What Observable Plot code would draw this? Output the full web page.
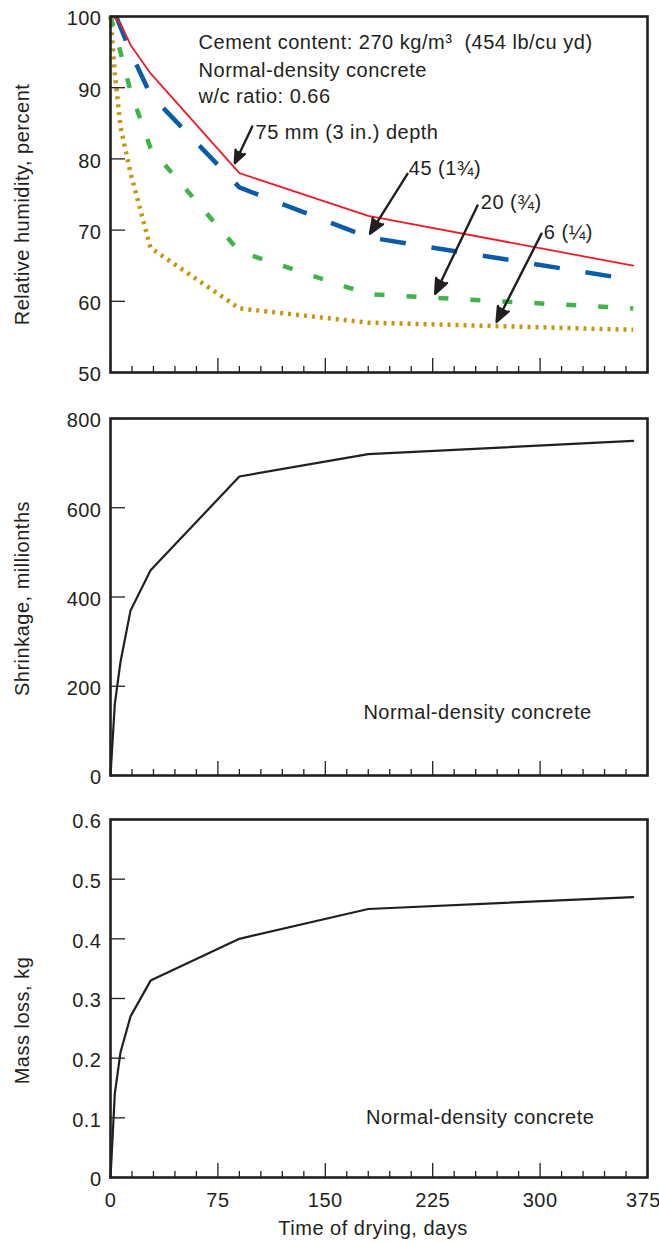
<!DOCTYPE html>
<html><head><meta charset="utf-8">
<script src="https://cdn.jsdelivr.net/npm/d3@7"></script>
<script src="https://cdn.jsdelivr.net/npm/@observablehq/plot@0.6"></script>
<style>
html,body{margin:0;padding:0;background:#fff;}
#chart{width:659px;}
#chart svg{display:block;}
</style></head><body><div id="chart"></div>
<script>
// ---------- data ----------
const rh75Days = [2, 7, 14, 28, 90, 180, 365];
const rh75 = [100, 99, 96, 92, 78, 72, 65];
const rh45Days = [4, 7, 14, 28, 90, 180, 365];
const rh45 = [100, 98.5, 95, 89, 76, 69, 63];
const rh20Days = [0, 3, 7, 14, 28, 90, 180, 365];
const rh20 = [100, 98, 95, 89.5, 81.5, 67, 61, 59];
const rh6Days = [0, 3, 7, 14, 28, 90, 180, 365];
const rh6 = [100, 92, 84.5, 78, 67.5, 59, 57, 56];

const shrinkDays = [0, 3, 7, 14, 28, 90, 180, 365];
const shrinkage = [0, 160, 255, 370, 460, 670, 720, 750];
const massDays = [0, 3, 7, 14, 28, 90, 180, 365];
const massLoss = [0, 0.14, 0.21, 0.27, 0.33, 0.40, 0.45, 0.47];

const xMajorTicks = [0, 75, 150, 225, 300, 375];
const xLabelTicks = [0, 75, 150, 225, 300];
const xLastTick = [375];
const xMinorTicks = [15, 30, 45, 60, 90, 105, 120, 135, 165, 180, 195, 210, 240, 255, 270, 285, 315, 330, 345, 360];
const rhTicks = [50, 60, 70, 80, 90, 100];
const shrinkTicks = [0, 200, 400, 600, 800];
const massTicks = [0, 0.1, 0.2, 0.3, 0.4, 0.5, 0.6];

const noteLines = ["Cement content: 270 kg/m³ \u00a0(454 lb/cu yd)", "Normal-density concrete", "w/c ratio: 0.66"];
const noteX = [61.5, 61.5, 61.5];
const noteY = [96.3, 92.4, 88.8];

const depthLabels = ["75 mm (3 in.) depth", "45 (1¾)", "20 (¾)", "6 (¼)"];
const depthLabelX = [101.3, 208.3, 258.6, 302.6];
const depthLabelY = [83.7, 78.65, 73.9, 69.7];
const arrowX1 = [99, 207.4, 256.3, 301];
const arrowY1 = [84.55, 77.9, 73.45, 69.5];
const arrowX2 = [86.8, 181.2, 226.7, 269.6];
const arrowY2 = [79.4, 69.5, 61.05, 57.1];

const panelNote = "Normal-density concrete";
const shrinkNote = {x: 256.3, y: 141.8};
const massNote = {x: 258.2, y: 0.101};

const xLabel = "Time of drying, days";

// ---------- styles ----------
const FONT = "'Liberation Sans', Arial, Helvetica, sans-serif";
const INK = "#231f20";
const RED = "#ed1c24", BLUE = "#0a5ca8", GREEN = "#3fb549", GOLD = "#c8960f";
const svgStyle = `font-family:${FONT};font-size:20px;letter-spacing:0.5px;color:${INK};background:#fff;overflow:visible;`;
const fmt = d => `${d}`;

function panel({height, marginTop, marginBottom, yDomain, yTicks, yLabel, yLabelDy, xLabels, marks}) {
  return Plot.plot({
    width: 659, height, marginLeft: 110, marginRight: 12, marginTop, marginBottom,
    style: svgStyle,
    x: {domain: [0, 375]},
    y: {domain: yDomain},
    marks: [
      ...marks,
      Plot.axisX(xMinorTicks, {tickSize: -6, tickFormat: () => "", label: null, stroke: INK, strokeWidth: 1.3}),
      Plot.axisX(xMajorTicks, {tickSize: -14, tickFormat: () => "", label: null, stroke: INK, strokeWidth: 1.3}),
      xLabels ? Plot.axisX(xLabelTicks, {tickSize: 0, tickPadding: 15, tickFormat: fmt, label: null, fill: INK}) : null,
      xLabels ? Plot.axisX(xLastTick, {tickSize: 0, tickPadding: 15, tickFormat: fmt, label: null, fill: INK, dx: -4}) : null,
      xLabels ? Plot.text([xLabel], {text: d => d, frameAnchor: "bottom", textAnchor: "middle", dy: 51, dx: -6, lineAnchor: "middle", fill: INK}) : null,
      Plot.axisY(yTicks, {tickSize: -15, tickFormat: () => "", label: null, stroke: INK, strokeWidth: 1.3}),
      Plot.axisY(yTicks, {tickSize: 0, tickPadding: 9, tickFormat: fmt, label: null, dy: 2.5, fill: INK}),
      Plot.text([yLabel], {text: d => d, frameAnchor: "left", textAnchor: "middle", rotate: -90, dx: -88, dy: yLabelDy, lineAnchor: "middle", fill: INK}),
      Plot.frame({stroke: INK, strokeWidth: 2.6})
    ]
  });
}

const p1 = panel({
  height: 390, marginTop: 16, marginBottom: 18, yDomain: [50, 100], yTicks: rhTicks,
  yLabel: "Relative humidity, percent", yLabelDy: 10,
  marks: [
    Plot.line(rh6Days, {x: d => d, y: (d, i) => rh6[i], stroke: GOLD, strokeWidth: 4.5, strokeDasharray: "3,5", strokeLinecap: "butt", strokeLinejoin: "miter"}),
    Plot.line(rh20Days, {x: d => d, y: (d, i) => rh20[i], stroke: GREEN, strokeWidth: 4.5, strokeDasharray: "10,22", strokeLinecap: "butt", strokeLinejoin: "miter"}),
    Plot.line(rh45Days, {x: d => d, y: (d, i) => rh45[i], stroke: BLUE, strokeWidth: 4.5, strokeDasharray: "26,26", strokeLinecap: "butt", strokeLinejoin: "miter"}),
    Plot.line(rh75Days, {x: d => d, y: (d, i) => rh75[i], stroke: RED, strokeWidth: 1.8}),
    Plot.arrow(depthLabels, {
      x1: (d, i) => arrowX1[i], y1: (d, i) => arrowY1[i], x2: (d, i) => arrowX2[i], y2: (d, i) => arrowY2[i],
      stroke: INK, fill: INK, strokeWidth: 2.4, headLength: 10, headAngle: 44
    }),
    Plot.text(noteLines, {x: (d, i) => noteX[i], y: (d, i) => noteY[i], text: d => d, textAnchor: "start", lineAnchor: "middle", fill: INK}),
    Plot.text(depthLabels, {x: (d, i) => depthLabelX[i], y: (d, i) => depthLabelY[i], text: d => d, textAnchor: "start", lineAnchor: "middle", fill: INK})
  ]
});

const p2 = panel({
  height: 400, marginTop: 28, marginBottom: 15, yDomain: [0, 800], yTicks: shrinkTicks,
  yLabel: "Shrinkage, millionths", yLabelDy: 1.5,
  marks: [
    Plot.line(shrinkDays, {x: d => d, y: (d, i) => shrinkage[i], stroke: INK, strokeWidth: 2.2}),
    Plot.text([panelNote], {x: shrinkNote.x, y: shrinkNote.y, text: d => d, lineAnchor: "middle", fill: INK})
  ]
});

const p3 = panel({
  height: 453, marginTop: 29, marginBottom: 66, yDomain: [0, 0.6], yTicks: massTicks,
  yLabel: "Mass loss, kg", yLabelDy: 22, xLabels: true,
  marks: [
    Plot.line(massDays, {x: d => d, y: (d, i) => massLoss[i], stroke: INK, strokeWidth: 2.2}),
    Plot.text([panelNote], {x: massNote.x, y: massNote.y, text: d => d, lineAnchor: "middle", fill: INK})
  ]
});

const chart = document.getElementById("chart");
chart.append(p1, p2, p3);
</script>
</body></html>
